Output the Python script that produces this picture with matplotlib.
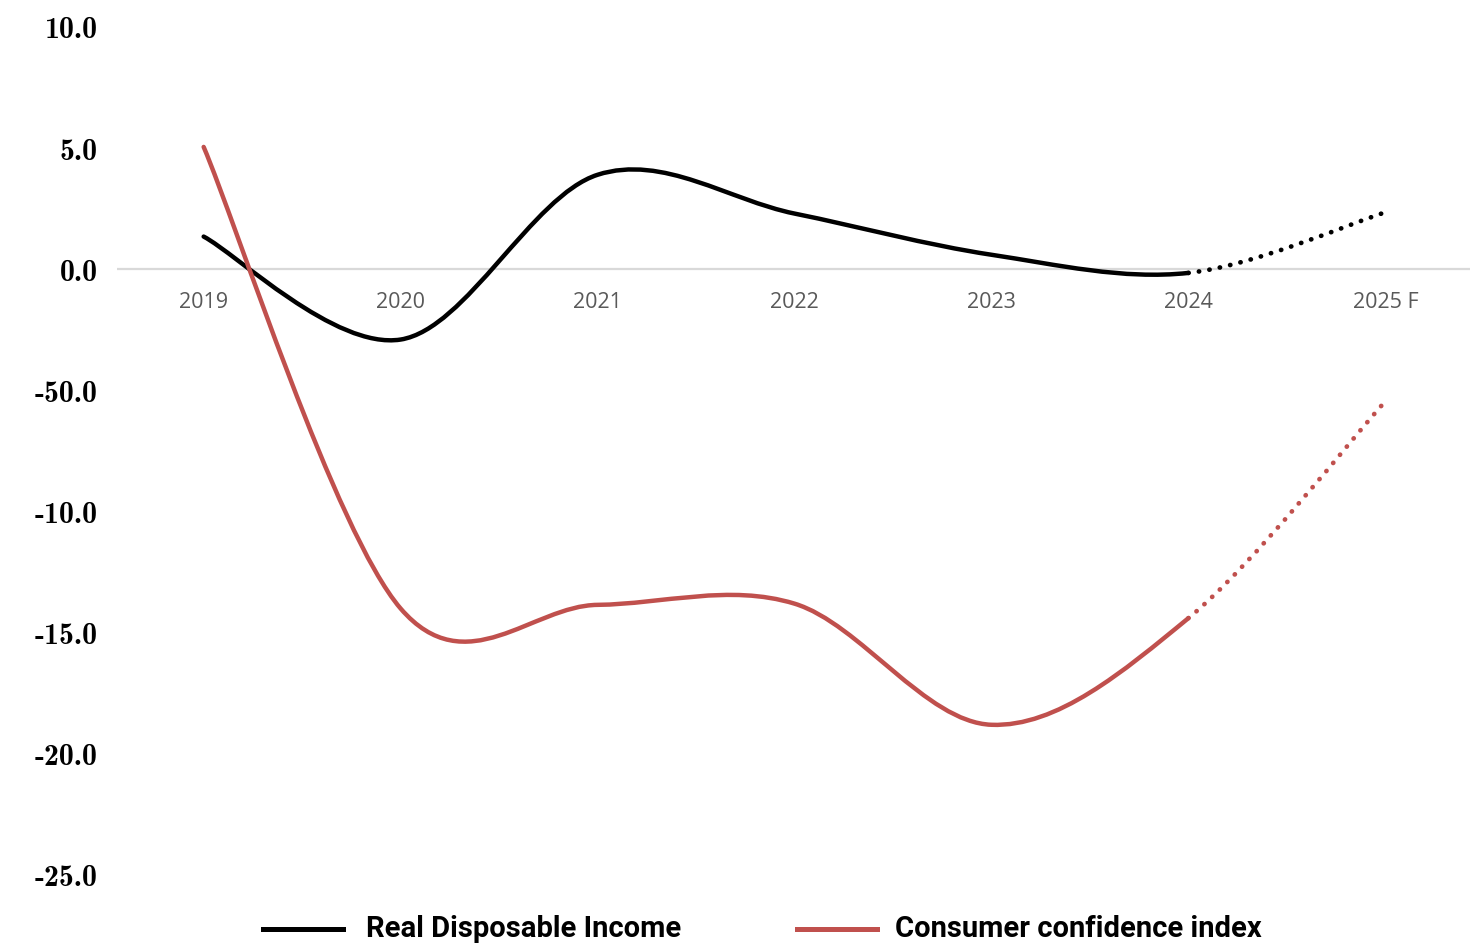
import matplotlib
matplotlib.use('Agg')
import matplotlib.pyplot as plt
from matplotlib.path import Path
from matplotlib.patches import PathPatch
from matplotlib.lines import Line2D

years = ['2019', '2020', '2021', '2022', '2023', '2024', '2025 F']
income = [1.35, -2.9, 3.9, 2.3, 0.6, -0.15, 2.35]
confidence = [5.05, -14.0, -13.85, -13.8, -18.8, -14.4, -5.45]
ytick_vals = [10, 5, 0, -5, -10, -15, -20, -25]
ytick_text = ['10.0', '5.0', '0.0', '-50.0', '-10.0', '-15.0', '-20.0', '-25.0']

BLACK = '#000000'
RED = '#C0504D'


def smooth_segments(ys):
    # excel style smoothed line: one cubic bezier per segment
    xs = list(range(len(ys)))
    n = len(ys)
    segs = []
    for i in range(n - 1):
        p0 = (xs[max(i - 1, 0)], ys[max(i - 1, 0)])
        p1 = (xs[i], ys[i])
        p2 = (xs[i + 1], ys[i + 1])
        p3 = (xs[min(i + 2, n - 1)], ys[min(i + 2, n - 1)])
        c1 = (p1[0] + (p2[0] - p0[0]) / 6.0, p1[1] + (p2[1] - p0[1]) / 6.0)
        c2 = (p2[0] - (p3[0] - p1[0]) / 6.0, p2[1] - (p3[1] - p1[1]) / 6.0)
        segs.append([p1, c1, c2, p2])
    return segs


def curve(segs):
    verts = [segs[0][0]]
    codes = [Path.MOVETO]
    for s in segs:
        verts += s[1:]
        codes += [Path.CURVE4] * 3
    return Path(verts, codes)


fig = plt.figure(figsize=(14.71, 9.45), dpi=100)
ax = fig.add_axes([117 / 1471, 69 / 945, 1353 / 1471, 848 / 945])
ax.set_xlim(-0.44, 6.43)
ax.set_ylim(-25, 10)
for s in ax.spines.values():
    s.set_visible(False)
ax.axhline(0, color='#D9D9D9', lw=1.6, zorder=1)

for ys, col in [(income, BLACK), (confidence, RED)]:
    segs = smooth_segments(ys)
    solid = PathPatch(curve(segs[:-1]), fill=False, edgecolor=col, lw=3.2,
                      capstyle='round', joinstyle='round', zorder=3)
    dotted = PathPatch(curve(segs[-1:]), fill=False, edgecolor=col, lw=3.4,
                       linestyle=(0, (0.05, 2.2)), capstyle='round', zorder=3)
    ax.add_patch(solid)
    ax.add_patch(dotted)

ax.set_xticks([])
ax.set_yticks(ytick_vals)
ax.set_yticklabels(ytick_text, fontsize=21.5, fontweight='bold',
                   family=['cmb10', 'DejaVu Serif'])
ax.tick_params(axis='y', length=0, pad=14)

for i, y in enumerate(years):
    ax.annotate(y, (i, 0), xytext=(0, -23), textcoords='offset points',
                ha='center', va='center', fontsize=15.5, color='#595959',
                family=['Open Sans', 'DejaVu Sans'])

# legend at bottom
fig.add_artist(Line2D([263 / 1471, 343 / 1471], [15 / 945, 15 / 945],
                      color=BLACK, lw=3.6, transform=fig.transFigure))
fig.add_artist(Line2D([797 / 1471, 877 / 1471], [15 / 945, 15 / 945],
                      color=RED, lw=3.6, transform=fig.transFigure))
fig.text(366 / 1471, 8 / 945, 'Real Disposable Income', fontsize=21,
         fontweight='bold', va='baseline', ha='left',
         family=['Roboto', 'DejaVu Sans'])
fig.text(895 / 1471, 8 / 945, 'Consumer confidence index', fontsize=21,
         fontweight='bold', va='baseline', ha='left',
         family=['Roboto', 'DejaVu Sans'])

fig.savefig('out.png', dpi=100, facecolor='white')
